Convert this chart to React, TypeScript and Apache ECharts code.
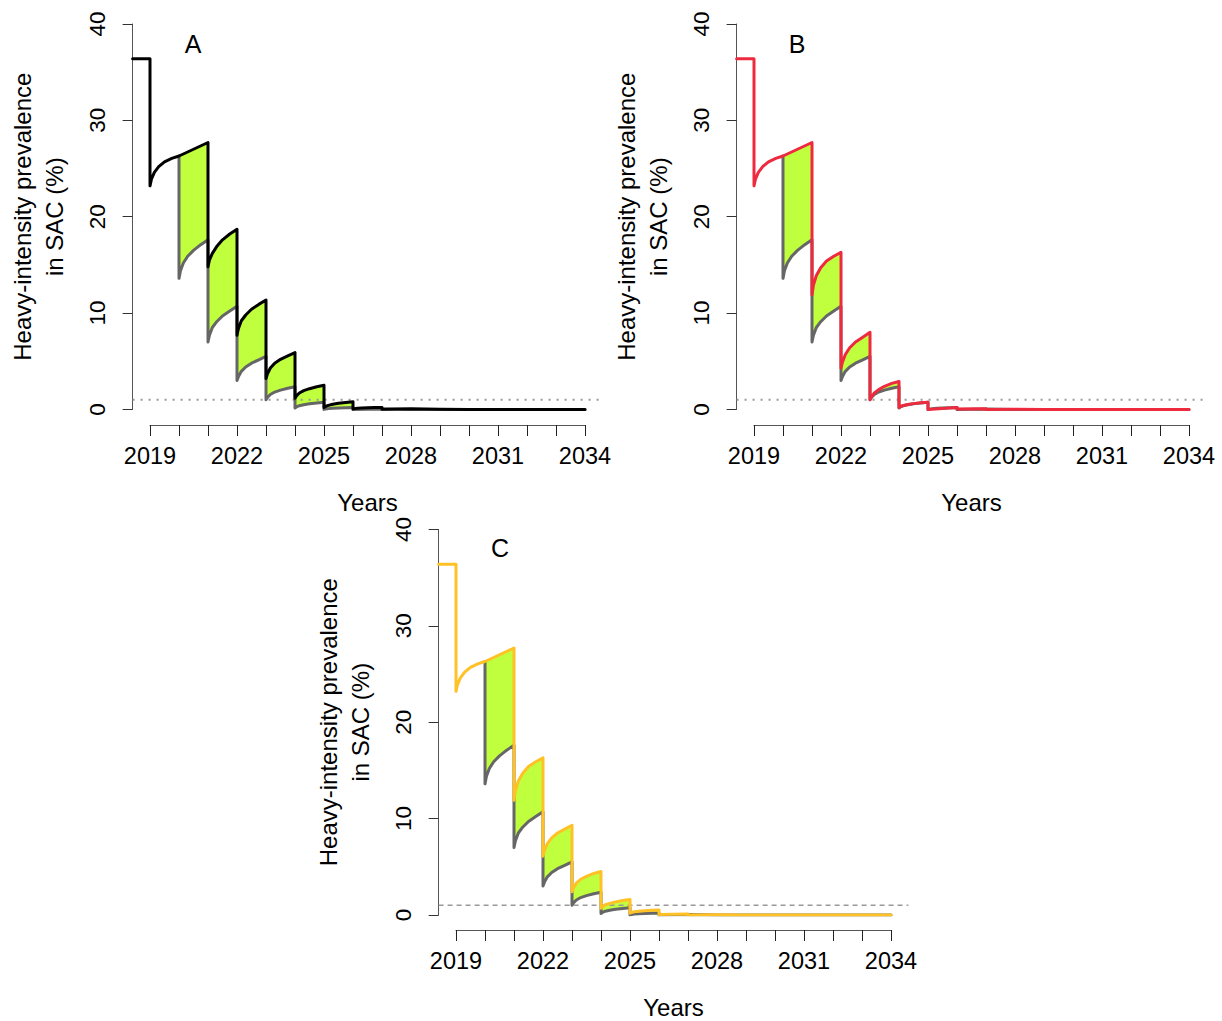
import React, { useEffect, useRef } from "react";
import * as echarts from "echarts";

// ---- data ----
const X_START = 2018.4; // left edge of the plotting region (xlim 2019–2034 with 4% padding)
const X_END = 2034.6;
const START_VALUE = 36.4; // value before the first treatment in 2019
const UPPER_FIRST_YEAR = 2019;
const BASELINE_FIRST_YEAR = 2020;
const BASELINE_START = [2020, 26.3];
const REFERENCE_LEVEL = 1;
const Y_TICKS = [0, 10, 20, 30, 40];
const YEAR_LABELS = [2019, 2022, 2025, 2028, 2031, 2034];
// position of readings inside each year: 7 readings or 2 (start / end)
const FRACTIONS_7 = [0, 0.05, 0.15, 0.3, 0.5, 0.75, 1];
const FRACTIONS_2 = [0, 1];

// panel A (black) – one array per year 2019 … 2033
const upperA = [
  [23.2, 23.9, 24.6, 25.2, 25.7, 26.05, 26.3],
  [26.3, 27.7],
  [14.8, 15.5, 16.2, 16.9, 17.6, 18.2, 18.7],
  [7.7, 8.4, 9.2, 9.8, 10.4, 10.9, 11.35],
  [3.2, 3.7, 4.3, 4.8, 5.2, 5.55, 5.9],
  [1.15, 1.4, 1.7, 1.95, 2.15, 2.35, 2.5],
  [0.2, 0.3, 0.42, 0.53, 0.63, 0.72, 0.8],
  [0.05, 0.08, 0.11, 0.14, 0.17, 0.19, 0.2],
  [0.02, 0.08],
  [0.01, 0.02],
  [0, 0],
  [0, 0],
  [0, 0],
  [0, 0],
  [0, 0],
];

// panel B (red)
const upperB = [
  [23.2, 23.9, 24.6, 25.2, 25.7, 26.05, 26.3],
  [26.3, 27.7],
  [11.9, 12.9, 13.9, 14.7, 15.4, 15.9, 16.3],
  [4.3, 4.9, 5.7, 6.4, 7.0, 7.5, 8.0],
  [1.0, 1.3, 1.7, 2.05, 2.4, 2.7, 2.9],
  [0.2, 0.3, 0.4, 0.5, 0.6, 0.68, 0.75],
  [0.0, 0.2],
  [0.05, 0.08],
  [0.0, 0.02],
  [0, 0],
  [0, 0],
  [0, 0],
  [0, 0],
  [0, 0],
  [0, 0],
];

// panel C (orange)
const upperC = [
  [23.2, 23.9, 24.6, 25.2, 25.7, 26.05, 26.3],
  [26.3, 27.7],
  [11.9, 12.9, 13.9, 14.7, 15.4, 15.9, 16.3],
  [6.1, 6.7, 7.4, 8.0, 8.5, 8.9, 9.3],
  [2.4, 2.8, 3.3, 3.7, 4.0, 4.3, 4.5],
  [0.7, 0.85, 1.05, 1.2, 1.35, 1.5, 1.6],
  [0.17, 0.25, 0.32, 0.38, 0.43, 0.47, 0.5],
  [0.05, 0.1],
  [0.0, 0.02],
  [0, 0],
  [0, 0],
  [0, 0],
  [0, 0],
  [0, 0],
  [0, 0],
];

// grey comparison curve, one array per year 2020 … 2033
const baseline = [
  [13.6, 14.4, 15.2, 15.9, 16.5, 17.1, 17.6],
  [7.0, 7.7, 8.5, 9.1, 9.7, 10.2, 10.7],
  [3.0, 3.4, 3.95, 4.4, 4.8, 5.15, 5.5],
  [1.0, 1.25, 1.55, 1.8, 2.0, 2.2, 2.35],
  [0.15, 0.25, 0.38, 0.48, 0.58, 0.67, 0.75],
  [0.0, 0.03, 0.08, 0.12, 0.15, 0.18, 0.2],
  [0.0, 0.05],
  [0, 0],
  [0, 0],
  [0, 0],
  [0, 0],
  [0, 0],
  [0, 0],
  [0, 0],
];

const PANEL_LETTERS = ["A", "B", "C"];
const PANEL_COLORS = ["#000000", "#EE2A3E", "#FFC125"];

// ---- helpers ----
function buildPoints(firstYear: number, segs: number[][]): number[][] {
  const pts: number[][] = [];
  segs.forEach((seg, i) => {
    const fr = seg.length === 7 ? FRACTIONS_7 : FRACTIONS_2;
    seg.forEach((v, j) => pts.push([firstYear + i + fr[j], v]));
  });
  return pts;
}

const FONT = "'Liberation Sans', Arial, Helvetica, sans-serif";
const FILL = "#C0FF3E";
const GREY = "#666666";

// layout (pixels)
const YEAR_PX = 29;
const LAYOUT = [
  { left: 132.6, top: 24, axisY: 425, letterX: 193, letterY: 44, refType: [2, 6] as any },
  { left: 736.6, top: 24, axisY: 425, letterX: 797, letterY: 44, refType: [2, 6] as any },
  { left: 438.6, top: 529.5, axisY: 930, letterX: 500, letterY: 548, refType: [5, 4] as any },
];

export default function App() {
  const ref = useRef<HTMLDivElement>(null);

  useEffect(() => {
    if (!ref.current) return;
    const chart = echarts.init(ref.current, undefined, { renderer: "svg" });

    const uppers = [upperA, upperB, upperC];
    const lowerPts = [BASELINE_START, ...buildPoints(BASELINE_FIRST_YEAR, baseline)];

    const grid: any[] = [];
    const xAxis: any[] = [];
    const yAxis: any[] = [];
    const series: any[] = [];
    const graphic: any[] = [];

    uppers.forEach((segs, k) => {
      const L = LAYOUT[k];
      const upperPts = [
        [X_START, START_VALUE],
        [UPPER_FIRST_YEAR, START_VALUE],
        ...buildPoints(UPPER_FIRST_YEAR, segs),
      ];
      const poly = [
        ...upperPts.filter((p) => p[0] >= BASELINE_FIRST_YEAR),
        ...lowerPts.slice().reverse(),
      ];
      const gData = 2 * k;
      const gAxis = 2 * k + 1;
      const plotWidth = (X_END - X_START) * YEAR_PX;
      const xOffset = (UPPER_FIRST_YEAR - X_START) * YEAR_PX;

      grid.push({ left: L.left, top: L.top, width: plotWidth, height: 385.4 });
      grid.push({ left: L.left + xOffset, top: L.axisY - 1, width: 15 * YEAR_PX, height: 1 });

      xAxis.push({ gridIndex: gData, type: "value", min: X_START, max: X_END, show: false });
      xAxis.push({
        gridIndex: gAxis,
        type: "value",
        min: 2019,
        max: 2034,
        interval: 1,
        position: "bottom",
        axisLine: { show: true, onZero: false, lineStyle: { color: "#555", width: 1 } },
        axisTick: { show: true, inside: false, length: 11, lineStyle: { color: "#222", width: 1 } },
        axisLabel: {
          show: true,
          margin: 19,
          fontSize: 23.5,
          color: "#000",
          fontFamily: FONT,
          formatter: (v: number) => (YEAR_LABELS.includes(v) ? String(v) : ""),
        },
        splitLine: { show: false },
        name: "Years",
        nameLocation: "middle",
        nameGap: 65,
        nameTextStyle: { fontSize: 24, color: "#000", fontFamily: FONT },
      });

      yAxis.push({
        gridIndex: gData,
        type: "value",
        min: Y_TICKS[0],
        max: Y_TICKS[Y_TICKS.length - 1],
        interval: Y_TICKS[1] - Y_TICKS[0],
        position: "left",
        axisLine: { show: true, lineStyle: { color: "#555", width: 1 } },
        axisTick: { show: true, inside: false, length: 10, lineStyle: { color: "#333", width: 1 } },
        axisLabel: { show: true, rotate: 90, margin: 24, fontSize: 22.5, color: "#000", fontFamily: FONT },
        splitLine: { show: false },
        name: "Heavy-intensity prevalence\nin SAC (%)",
        nameLocation: "middle",
        nameRotate: 90,
        nameGap: 62,
        nameTextStyle: { fontSize: 24, lineHeight: 32, color: "#000", fontFamily: FONT },
      });
      yAxis.push({ gridIndex: gAxis, type: "value", min: 0, max: 1, show: false });

      series.push({
        type: "custom",
        xAxisIndex: gData,
        yAxisIndex: gData,
        silent: true,
        clip: true,
        z: 1,
        data: [[BASELINE_FIRST_YEAR, 0]],
        renderItem: (_params: any, api: any) => ({
          type: "polygon",
          shape: { points: poly.map((p) => api.coord(p)) },
          style: { fill: FILL, stroke: null },
        }),
      });
      series.push({
        type: "line",
        xAxisIndex: gData,
        yAxisIndex: gData,
        silent: true,
        z: 2,
        symbol: "none",
        data: [
          [X_START, REFERENCE_LEVEL],
          [X_END, REFERENCE_LEVEL],
        ],
        lineStyle: { color: "#999", width: k === 2 ? 1.5 : 2, type: L.refType },
      });
      series.push({
        type: "line",
        xAxisIndex: gData,
        yAxisIndex: gData,
        silent: true,
        z: 3,
        symbol: "none",
        clip: true,
        data: lowerPts,
        lineStyle: { color: GREY, width: 3, join: "round", cap: "round" },
      });
      series.push({
        type: "line",
        xAxisIndex: gData,
        yAxisIndex: gData,
        silent: true,
        z: 4,
        symbol: "none",
        clip: true,
        data: upperPts,
        lineStyle: { color: PANEL_COLORS[k], width: 3, join: "round", cap: "round" },
      });

      graphic.push({
        type: "text",
        x: L.letterX,
        y: L.letterY,
        style: {
          text: PANEL_LETTERS[k],
          fontSize: 25,
          fontFamily: FONT,
          fill: "#000",
          align: "center",
          verticalAlign: "middle",
        },
      });
    });

    chart.setOption({
      animation: false,
      backgroundColor: "#ffffff",
      textStyle: { fontFamily: FONT },
      grid,
      xAxis,
      yAxis,
      series,
      graphic,
    });

    return () => chart.dispose();
  }, []);

  return (
    <div
      ref={ref}
      style={{ position: "absolute", left: 0, top: 0, width: 1222, height: 1021, background: "#fff" }}
    />
  );
}
